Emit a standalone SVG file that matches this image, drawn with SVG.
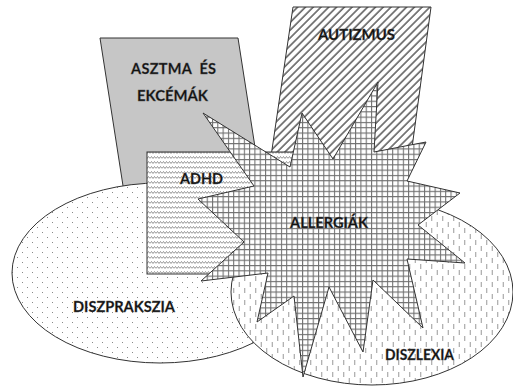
<svg xmlns="http://www.w3.org/2000/svg" width="513" height="386" viewBox="0 0 513 386">
<style>
.shape{stroke:#333;stroke-width:1;stroke-linejoin:miter}
.lbl{font-family:Lato,"Open Sans","Liberation Sans",sans-serif;font-weight:bold;font-size:14.5px;fill:#111;text-anchor:start;stroke:#555;stroke-width:0.3}
</style>
<defs>
<pattern id="pDots" width="10" height="10" patternUnits="userSpaceOnUse">
<rect width="10" height="10" fill="#fff"/>
<rect x="2" y="2" width="1" height="1" fill="#888"/>
<rect x="7" y="7" width="1" height="1" fill="#888"/>
</pattern>
<pattern id="pDash" width="11" height="12" patternUnits="userSpaceOnUse">
<rect width="11" height="12" fill="#fff"/>
<line x1="2.75" y1="0" x2="2.75" y2="5" stroke="#999" stroke-width="1"/>
<line x1="8.25" y1="6" x2="8.25" y2="11" stroke="#999" stroke-width="1"/>
</pattern>
<pattern id="pGrid" width="5.3" height="5.3" patternUnits="userSpaceOnUse">
<rect width="5.3" height="5.3" fill="#fff"/>
<path d="M0.5 0V5.3M0 0.5H5.3" stroke="#6e6e6e" stroke-width="1.1"/>
</pattern>
<pattern id="pWave" width="6" height="5" patternUnits="userSpaceOnUse">
<rect width="6" height="5" fill="#fff"/>
<path d="M0 3.5L1.5 1.5L3 3.5L4.5 1.5L6 3.5" fill="none" stroke="#888" stroke-width="0.9"/>
</pattern>
<pattern id="pDiag" width="5.5" height="5.5" patternUnits="userSpaceOnUse" patternTransform="rotate(45)">
<rect width="5.5" height="5.5" fill="#fff"/>
<line x1="1" y1="0" x2="1" y2="5.5" stroke="#6a6a6a" stroke-width="1.7"/>
</pattern>
</defs>
<g id="asztma">
<polygon class="shape" points="100,38 238,38 264,205 126,205" fill="#c6c6c6"/>
</g>
<g id="autizmus">
<polygon class="shape" points="293,7 431,7 409,170 269,170" fill="url(#pDiag)"/>
</g>
<g id="diszpraksia">
<ellipse class="shape" cx="160" cy="273" rx="148" ry="90" fill="url(#pDots)"/>
</g>
<g id="adhd">
<rect class="shape" x="147" y="152" width="153" height="122" fill="url(#pWave)"/>
</g>
<g id="diszlexia">
<ellipse class="shape" cx="372" cy="292" rx="141" ry="93" fill="url(#pDash)"/>
</g>
<g id="allergiak">
<polygon class="shape" fill="url(#pGrid)" points="203,113 290,167 302,113 333,159 378,82 374,152 426,142 407,181 460,193 418,225 465,263 407,259 423,328 373,280 363,352 329,287 303,377 294,296 257,322 268,273 201,281 244,242 198,199 254,186"/>
</g>
<g id="connectors"></g>
<g id="labels">
<text class="lbl" x="318" y="40" textLength="77" lengthAdjust="spacingAndGlyphs">AUTIZMUS</text>
<text class="lbl" x="131" y="74" textLength="85" lengthAdjust="spacing" xml:space="preserve">ASZTMA  ÉS</text>
<text class="lbl" x="137" y="101" textLength="71" lengthAdjust="spacingAndGlyphs">EKCÉMÁK</text>
<text class="lbl" x="180" y="184" textLength="43" lengthAdjust="spacingAndGlyphs">ADHD</text>
<text class="lbl" x="290" y="228" textLength="78" lengthAdjust="spacingAndGlyphs">ALLERGIÁK</text>
<text class="lbl" x="73" y="312" textLength="102" lengthAdjust="spacingAndGlyphs">DISZPRAKSZIA</text>
<text class="lbl" x="385" y="360" textLength="69" lengthAdjust="spacingAndGlyphs">DISZLEXIA</text>
</g>
</svg>
